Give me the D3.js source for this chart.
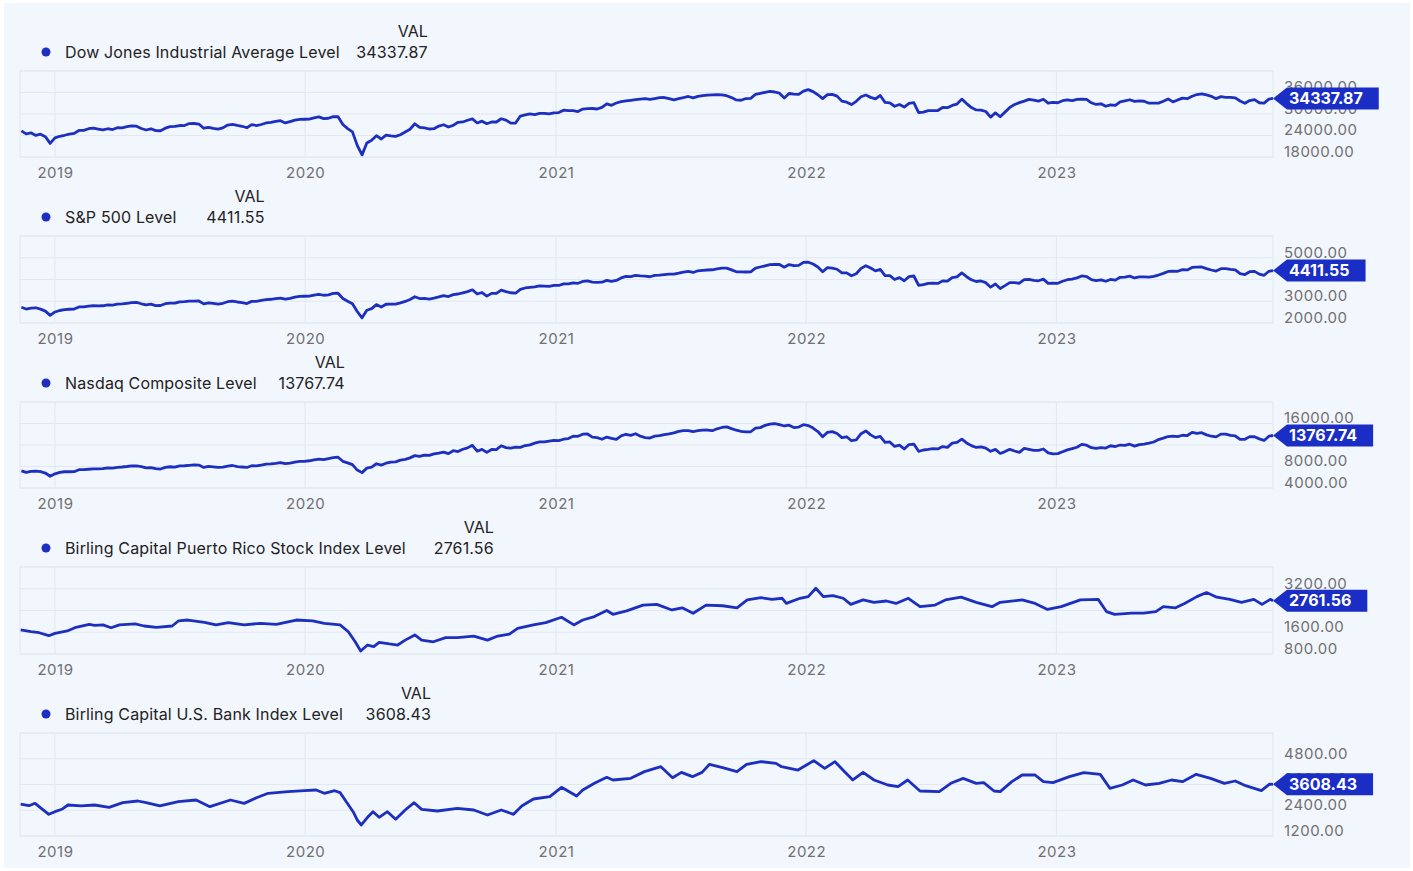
<!DOCTYPE html>
<html>
<head>
<meta charset="utf-8">
<script src="https://cdn.jsdelivr.net/npm/d3@7"></script>
<style>
  html, body { margin: 0; padding: 0; background: #ffffff; }
  svg { display: block; font-family: Inter, Roboto, "Noto Sans", sans-serif; }
</style>
</head>
<body>
<svg id="chart" width="1413" height="871"></svg>
<script>
const parseDate = d3.utcParse("%Y-%m-%d");

// weekly closes (Tuesdays) from 2018-11-13, last point 2023-11-13
const djiValues = [
  25287, 24465, 24749, 24027, 24370, 23675, 21792, 23327,
  23787, 24065, 24404, 24579, 25411, 25425, 25891, 26057, 25806, 25554, 25887, 25657,
  26179, 26150, 26452, 26656, 26592, 25965, 25532, 25877, 25347, 25332, 26048, 26465, 26548,
  26786, 26783, 27335, 27349, 27198, 26029, 26280, 25962, 25778, 26118, 26909, 27110, 26808,
  26573, 26164, 27025, 26788, 27071, 27492, 27691, 27934, 28121, 27502, 27881, 28267, 28515, 28538,
  28583, 28940, 29196, 28723, 28808, 29276, 29232, 27081, 25917, 25018, 21237, 18591, 21917,
  22654, 23950, 23019, 24101, 23883, 23764, 24207, 24995, 25742, 27272, 26290, 26156, 25813,
  25890, 26643, 27005, 26379, 26828, 27687, 27778, 28249, 28645, 27500, 27996, 27288, 27781,
  27773, 28679, 28309, 27463, 27480, 29421, 29783, 30046, 29824, 30174, 30199, 30015, 30336,
  30392, 31069, 30930, 30937, 30688, 31376, 31523, 31537, 31391, 31832, 32825, 32423, 33066,
  33430, 33677, 33821, 33984, 34133, 34269, 34060, 34312, 34575, 34599, 34299, 33945, 34292,
  34577, 34889, 34512, 34930, 35116, 35264, 35343, 35366, 35361, 35100, 34578, 33919, 33843,
  34314, 34378, 35457, 35757, 36053, 36319, 36143, 35814, 34484, 35719, 35545, 35492, 36398,
  36799, 36252, 35368, 34297, 35405, 35463, 34989, 33596, 33294, 32632, 33544, 34808, 35294,
  34641, 34220, 35160, 33240, 33128, 32161, 32655, 31929, 32990, 33180, 30364, 30531, 30947,
  30968, 30981, 31827, 31762, 32397, 32775, 34152, 32910, 31791, 31145, 31105, 30706, 29135,
  30317, 29239, 30523, 31837, 32653, 33160, 33593, 34098, 33853, 33597, 34108, 33028, 33241,
  33136, 33704, 33911, 33733, 34086, 34156, 34089, 33129, 32662, 32856, 32155, 32560, 32395,
  33402, 33684, 33977, 33531, 33684, 33562, 33012, 33055, 33042, 33573, 34212, 33389, 33927,
  34418, 34262, 34952, 35438, 35630, 35314, 34946, 34288, 34852, 34642, 34646, 34518, 33619,
  33002, 33740, 33998, 33141, 33053, 34153, 34337.87
];

const spxValues = [
  2722, 2641, 2682, 2700, 2636, 2546, 2351, 2507,
  2575, 2611, 2633, 2640, 2738, 2745, 2780, 2793, 2790, 2792, 2832, 2818,
  2867, 2878, 2907, 2934, 2946, 2884, 2835, 2864, 2803, 2804, 2886, 2917, 2917,
  2973, 2979, 3004, 3005, 3013, 2881, 2926, 2900, 2869, 2906, 2979, 3006, 2966,
  2940, 2893, 2995, 2995, 3036, 3076, 3091, 3120, 3140, 3093, 3132, 3192, 3223, 3231,
  3238, 3283, 3321, 3276, 3297, 3358, 3370, 3128, 3003, 2882, 2529, 2237, 2585,
  2659, 2846, 2737, 2863, 2868, 2870, 2922, 2991, 3081, 3207, 3124, 3131, 3100,
  3145, 3197, 3257, 3218, 3306, 3333, 3389, 3443, 3526, 3332, 3401, 3237, 3363,
  3361, 3512, 3443, 3390, 3369, 3545, 3610, 3635, 3662, 3702, 3694, 3687, 3727,
  3726, 3801, 3798, 3849, 3826, 3911, 3932, 3881, 3871, 3876, 3962, 3910, 3959,
  4074, 4141, 4134, 4186, 4165, 4152, 4127, 4188, 4202, 4227, 4246, 4246, 4291,
  4343, 4369, 4323, 4401, 4423, 4436, 4448, 4486, 4522, 4520, 4443, 4354, 4352,
  4345, 4350, 4519, 4574, 4630, 4685, 4700, 4690, 4567, 4686, 4634, 4649, 4786,
  4793, 4713, 4577, 4357, 4546, 4521, 4471, 4304, 4306, 4170, 4262, 4511, 4632,
  4525, 4397, 4462, 4175, 4175, 4001, 4088, 3941, 4132, 4161, 3735, 3765, 3821,
  3831, 3819, 3937, 3921, 4091, 4122, 4305, 4128, 3986, 3908, 3933, 3855, 3647,
  3791, 3588, 3720, 3859, 3856, 3828, 3991, 4003, 3958, 3941, 4019, 3821, 3829,
  3824, 3919, 3990, 4016, 4076, 4164, 4136, 3997, 3951, 3986, 3919, 4002, 3971,
  4100, 4108, 4154, 4071, 4119, 4119, 4109, 4145, 4205, 4283, 4369, 4388, 4378,
  4455, 4439, 4555, 4567, 4576, 4499, 4437, 4388, 4497, 4496, 4461, 4443, 4273,
  4229, 4358, 4373, 4247, 4193, 4378, 4411.55
];

const ixicValues = [
  7200, 6909, 7082, 7158, 7031, 6784, 6193, 6635,
  6897, 7023, 7020, 7028, 7402, 7414, 7486, 7549, 7576, 7591, 7723, 7691,
  7848, 7910, 8000, 8120, 8095, 7963, 7734, 7786, 7607, 7527, 7823, 7953, 7884,
  8109, 8141, 8222, 8321, 8273, 7833, 8016, 7948, 7827, 7874, 8084, 8186, 7993,
  7908, 7823, 8148, 8119, 8276, 8434, 8486, 8570, 8705, 8520, 8616, 8823, 8952, 8972,
  9068, 9251, 9370, 9269, 9467, 9638, 9732, 8965, 8684, 8344, 7335, 6860, 7700,
  7887, 8515, 8263, 8607, 8810, 8863, 9185, 9341, 9608, 10020, 9895, 10131, 10058,
  10344, 10489, 10680, 10402, 10941, 10782, 11210, 11466, 11939, 10848, 11190, 10632, 11168,
  11154, 11863, 11516, 11431, 11590, 11553, 11899, 12036, 12355, 12582, 12595, 12717, 12850,
  12818, 13072, 13197, 13626, 13612, 14007, 14047, 13465, 13358, 13073, 13471, 13227, 13045,
  13698, 13996, 13786, 14090, 13633, 13389, 13303, 13657, 13736, 13925, 14072, 14253, 14528,
  14665, 14677, 14498, 14660, 14762, 14788, 14656, 15019, 15259, 15374, 15037, 14747, 14546,
  14434, 14465, 15129, 15236, 15649, 15887, 15974, 15775, 15538, 15686, 15238, 15341, 15781,
  15622, 15153, 14506, 13539, 14346, 14490, 14139, 13381, 13532, 12795, 12948, 14109, 14619,
  13888, 13372, 13619, 12490, 12563, 11737, 11984, 11264, 12081, 12175, 10828, 11069, 11181,
  11322, 11264, 11713, 11563, 12348, 12493, 13102, 12381, 11883, 11544, 11634, 11425, 10829,
  11176, 10426, 10772, 11199, 10890, 10616, 11359, 11174, 10983, 11015, 11256, 10547, 10353,
  10386, 10742, 11095, 11334, 11585, 12113, 11960, 11492, 11379, 11530, 11428, 11860, 11716,
  11996, 11929, 12153, 11799, 12081, 12179, 12343, 12560, 13017, 13276, 13573, 13667, 13556,
  13816, 13761, 14353, 14144, 14284, 13884, 13631, 13505, 14019, 14020, 13773, 13679, 13063,
  13059, 13562, 13533, 13139, 12851, 13639, 13767.74
];

const prDates = [
  "2018-11-12", "2018-11-27", "2018-12-09", "2018-12-23", "2019-01-01", "2019-01-19", "2019-01-30",
  "2019-02-20", "2019-02-28", "2019-03-12", "2019-03-24", "2019-04-05", "2019-04-28", "2019-05-11",
  "2019-05-29", "2019-06-21", "2019-06-30", "2019-07-14", "2019-08-07", "2019-08-24", "2019-09-11",
  "2019-10-04", "2019-10-28", "2019-11-20", "2019-12-19", "2020-01-12", "2020-01-29", "2020-02-21",
  "2020-03-04", "2020-03-14", "2020-03-22", "2020-04-01", "2020-04-10", "2020-04-18", "2020-05-03",
  "2020-05-15", "2020-05-26", "2020-06-09", "2020-06-19", "2020-07-06", "2020-07-24", "2020-08-10",
  "2020-09-03", "2020-09-23", "2020-10-08", "2020-10-25", "2020-11-06", "2020-11-29", "2020-12-17",
  "2021-01-09", "2021-01-27", "2021-02-09", "2021-02-26", "2021-03-16", "2021-03-25", "2021-04-14",
  "2021-05-08", "2021-05-28", "2021-06-19", "2021-07-04", "2021-07-20", "2021-08-08", "2021-09-01",
  "2021-09-22", "2021-10-07", "2021-10-27", "2021-11-12", "2021-11-27", "2021-12-03", "2021-12-23",
  "2022-01-04", "2022-01-15", "2022-01-26", "2022-02-09", "2022-02-24", "2022-03-07", "2022-03-25",
  "2022-04-10", "2022-04-28", "2022-05-12", "2022-05-30", "2022-06-16", "2022-07-08", "2022-07-23",
  "2022-08-15", "2022-09-06", "2022-09-29", "2022-10-11", "2022-11-12", "2022-12-01", "2022-12-19",
  "2023-01-08", "2023-02-05", "2023-03-03", "2023-03-15", "2023-03-27", "2023-04-21", "2023-05-08",
  "2023-05-26", "2023-06-06", "2023-06-24", "2023-07-07", "2023-07-25", "2023-08-08", "2023-08-23",
  "2023-09-11", "2023-09-28", "2023-10-16", "2023-10-28", "2023-11-09", "2023-11-13"
];
const prValues = [
  1683, 1620, 1583, 1473, 1560, 1646, 1767,
  1892, 1855, 1870, 1767, 1870, 1905, 1830,
  1780, 1830, 2015, 2050, 1965, 1870, 1953,
  1870, 1930, 1893, 2050, 2015, 1930, 1870,
  1620, 1250, 910, 1130, 1070, 1230, 1170,
  1130, 1310, 1500, 1310, 1250, 1400, 1400,
  1460, 1310, 1460, 1530, 1740, 1870, 1953,
  2150, 1870, 2050, 2175, 2400, 2260, 2385,
  2600, 2625, 2420, 2500, 2300, 2600, 2575,
  2500, 2790, 2870, 2810, 2850, 2660, 2850,
  2910, 3220, 2910, 2950, 2850, 2625, 2790,
  2700, 2750, 2660, 2850, 2540, 2600, 2790,
  2890, 2700, 2540, 2700, 2790, 2660, 2440,
  2540, 2790, 2810, 2360, 2260, 2300, 2300,
  2360, 2540, 2500, 2660, 2910, 3060, 2890,
  2810, 2700, 2810, 2625, 2810, 2761.56
];

const bankDates = [
  "2018-11-12", "2018-11-24", "2018-12-03", "2018-12-12", "2018-12-23", "2019-01-01", "2019-01-12",
  "2019-01-20", "2019-02-08", "2019-02-28", "2019-03-21", "2019-04-10", "2019-05-02", "2019-05-14",
  "2019-06-03", "2019-06-30", "2019-07-26", "2019-08-15", "2019-09-14", "2019-10-04", "2019-10-22",
  "2019-11-08", "2019-12-07", "2019-12-31", "2020-01-17", "2020-01-29", "2020-02-13", "2020-02-21",
  "2020-03-01", "2020-03-11", "2020-03-17", "2020-03-23", "2020-04-01", "2020-04-09", "2020-04-18",
  "2020-04-30", "2020-05-12", "2020-05-26", "2020-06-08", "2020-06-19", "2020-07-12", "2020-08-10",
  "2020-09-03", "2020-09-23", "2020-10-13", "2020-10-31", "2020-11-12", "2020-11-29", "2020-12-23",
  "2021-01-09", "2021-01-31", "2021-02-09", "2021-02-26", "2021-03-16", "2021-03-25", "2021-04-20",
  "2021-05-10", "2021-06-03", "2021-06-20", "2021-07-03", "2021-07-19", "2021-08-02", "2021-08-13",
  "2021-09-01", "2021-09-22", "2021-10-06", "2021-10-27", "2021-11-18", "2021-11-26", "2021-12-20",
  "2022-01-12", "2022-01-28", "2022-02-12", "2022-02-26", "2022-03-10", "2022-03-25", "2022-04-10",
  "2022-04-30", "2022-05-15", "2022-05-29", "2022-06-16", "2022-07-14", "2022-07-31", "2022-08-18",
  "2022-09-06", "2022-09-17", "2022-10-02", "2022-10-11", "2022-10-28", "2022-11-12", "2022-12-01",
  "2022-12-13", "2022-12-27", "2023-01-20", "2023-02-10", "2023-03-06", "2023-03-20", "2023-04-07",
  "2023-04-23", "2023-05-11", "2023-05-31", "2023-06-18", "2023-07-04", "2023-07-24", "2023-08-14",
  "2023-09-03", "2023-09-19", "2023-10-04", "2023-10-27", "2023-11-08", "2023-11-13"
];
const bankValues = [
  2690, 2612, 2724, 2490, 2211, 2333, 2460,
  2645, 2600, 2645, 2537, 2752, 2831, 2752,
  2600, 2800, 2878, 2568, 2878, 2720, 2985,
  3190, 3266, 3310, 3344, 3190, 3310, 3220,
  2800, 2333, 1946, 1713, 2070, 2333, 2070,
  2333, 1977, 2412, 2752, 2440, 2365, 2490,
  2412, 2179, 2412, 2211, 2600, 2924, 3035,
  3468, 3066, 3344, 3655, 3934, 3810, 3887,
  4200, 4430, 3917, 4166, 3965, 4166, 4541,
  4385, 4198, 4541, 4664, 4587, 4430, 4275,
  4710, 4353, 4664, 4198, 3810, 4166, 3810,
  3577, 3500, 3810, 3297, 3266, 3655, 3887,
  3655, 3690, 3297, 3266, 3732, 4043, 4043,
  3732, 3690, 3965, 4150, 4073, 3422, 3577,
  3810, 3577, 3655, 3810, 3732, 4073, 3887,
  3655, 3763, 3546, 3312, 3620, 3608.43
];

const seriesNames = [
  "Dow Jones Industrial Average Level",
  "S&P 500 Level",
  "Nasdaq Composite Level",
  "Birling Capital Puerto Rico Stock Index Level",
  "Birling Capital U.S. Bank Index Level"
];
const yDomains = [[18000, 42000], [2000, 6000], [4000, 20000], [800, 4000], [1200, 6000]];
const yTickSteps = [6000, 1000, 4000, 800, 1200];
const yearTicks = ["2019-01-01", "2020-01-01", "2021-01-01", "2022-01-01", "2023-01-01"];
const xStart = "2018-11-11";
const xEnd = "2023-11-13";

// weekly dates for the three broad indexes
const weekDates = d3.utcTuesday
  .range(parseDate("2018-11-13"), parseDate("2023-11-08"))
  .concat([parseDate(xEnd)]);

const series = [
  { dates: weekDates, values: djiValues },
  { dates: weekDates, values: spxValues },
  { dates: weekDates, values: ixicValues },
  { dates: prDates.map(parseDate), values: prValues },
  { dates: bankDates.map(parseDate), values: bankValues }
].map((s, i) => ({
  name: seriesNames[i],
  domain: yDomains[i],
  step: yTickSteps[i],
  points: s.values.map((v, j) => ({ date: s.dates[j], value: v }))
}));

// layout
const plotLeft = 20;
const plotRight = 1273;
const panelTops = [71, 236, 402, 567, 733];
const panelHeights = [86, 87, 86, 87, 103];
const bg = "#f2f6fd";
const gridColor = "#e2e8f1";
const lineColor = "#1c2fbf";
const tagColor = "#1a2ec6";
const axisText = "#707070";
const font = "Inter, Roboto, sans-serif";

const svg = d3.select("#chart");
svg.append("rect")
  .attr("x", 4).attr("y", 3)
  .attr("width", 1406).attr("height", 865)
  .attr("fill", bg);

const x = d3.scaleUtc()
  .domain([parseDate(xStart), parseDate(xEnd)])
  .range([plotLeft, plotRight]);

const fmt = d3.format(".2f");

series.forEach((s, i) => {
  const top = panelTops[i];
  const bottom = top + panelHeights[i];
  const y = d3.scaleLinear().domain(s.domain).range([bottom, top]);
  const ticks = d3.range(s.domain[0], s.domain[1] + 1, s.step);
  const g = svg.append("g");

  // grid
  g.append("g")
    .selectAll("line")
    .data(ticks)
    .join("line")
    .attr("x1", plotLeft).attr("x2", plotRight)
    .attr("y1", (d) => y(d)).attr("y2", (d) => y(d))
    .attr("stroke", gridColor)
    .attr("stroke-width", 1);

  g.append("g")
    .selectAll("line")
    .data(yearTicks.map(parseDate))
    .join("line")
    .attr("x1", (d) => x(d)).attr("x2", (d) => x(d))
    .attr("y1", top).attr("y2", bottom)
    .attr("stroke", gridColor)
    .attr("stroke-width", 1);

  g.append("rect")
    .attr("x", plotLeft).attr("y", top)
    .attr("width", plotRight - plotLeft).attr("height", bottom - top)
    .attr("fill", "none")
    .attr("stroke", gridColor);

  // x axis
  const xAxis = g.append("g")
    .attr("transform", `translate(0,${bottom})`)
    .call(d3.axisBottom(x)
      .tickValues(yearTicks.map(parseDate))
      .tickFormat(d3.utcFormat("%Y"))
      .tickSize(0)
      .tickPadding(10));
  xAxis.select(".domain").remove();
  xAxis.selectAll("text")
    .attr("font-size", 15)
    .attr("font-family", font)
    .attr("letter-spacing", "0.5px")
    .attr("fill", axisText);

  // y axis labels (the last-value tag covers some of them, as in the source)
  const yAxis = g.append("g")
    .attr("transform", `translate(${plotRight},0)`)
    .call(d3.axisRight(y)
      .tickValues(ticks.slice(0, -1))
      .tickFormat(fmt)
      .tickSize(0)
      .tickPadding(11));
  yAxis.select(".domain").remove();
  yAxis.selectAll("text")
    .attr("dy", "-0.05em")
    .attr("font-size", 15)
    .attr("font-family", font)
    .attr("letter-spacing", "0.5px")
    .attr("fill", axisText);

  // series line
  const line = d3.line()
    .x((d) => x(d.date))
    .y((d) => y(d.value));
  g.append("path")
    .datum(s.points)
    .attr("fill", "none")
    .attr("stroke", lineColor)
    .attr("stroke-width", 2.8)
    .attr("stroke-linejoin", "round")
    .attr("d", line);

  // last value tag
  const last = s.points[s.points.length - 1].value;
  const ty = y(last);
  const tag = g.append("g");
  const tagPath = tag.append("path").attr("fill", tagColor);
  const tagText = tag.append("text")
    .attr("x", plotRight + 16)
    .attr("y", ty)
    .attr("dy", "0.36em")
    .attr("font-size", 16)
    .attr("font-weight", "bold")
    .attr("fill", "#ffffff")
    .text(fmt(last));
  const tw = tagText.node().getComputedTextLength();
  const right = plotRight + 16 + tw + 16;
  tagPath.attr("d", `M${plotRight},${ty} L${plotRight + 14},${ty - 11} L${right},${ty - 11} L${right},${ty + 11} L${plotRight + 14},${ty + 11} Z`);

  // legend
  const legendY = top - 19;
  g.append("circle")
    .attr("cx", 46).attr("cy", legendY)
    .attr("r", 4.5)
    .attr("fill", lineColor);
  const label = g.append("text")
    .attr("x", 65).attr("y", legendY)
    .attr("dy", "0.36em")
    .attr("font-size", 16)
    .attr("letter-spacing", "0.15px")
    .attr("fill", "#222222")
    .text(s.name);
  const labelEnd = 65 + label.node().getComputedTextLength();
  g.append("text")
    .attr("x", labelEnd + 88).attr("y", legendY)
    .attr("dy", "0.36em")
    .attr("text-anchor", "end")
    .attr("font-size", 16)
    .attr("letter-spacing", "0.15px")
    .attr("fill", "#222222")
    .text(fmt(last));
  g.append("text")
    .attr("x", labelEnd + 88).attr("y", top - 40)
    .attr("dy", "0.36em")
    .attr("text-anchor", "end")
    .attr("font-size", 16)
    .attr("fill", "#222222")
    .text("VAL");
});
</script>
</body>
</html>
